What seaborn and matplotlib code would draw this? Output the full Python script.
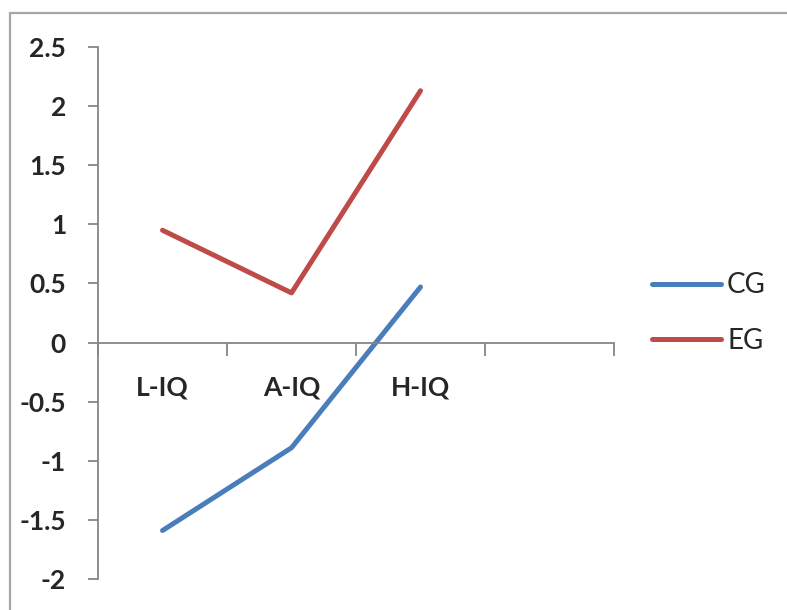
import pandas as pd
import matplotlib.pyplot as plt
import seaborn as sns
from matplotlib.patches import Rectangle

categories = ["L-IQ", "A-IQ", "H-IQ"]
cg = [-1.59, -0.89, 0.47]
eg = [0.95, 0.42, 2.13]
yticks = [-2, -1.5, -1, -0.5, 0, 0.5, 1, 1.5, 2, 2.5]

df = pd.DataFrame({
    "cat": categories * 2,
    "value": cg + eg,
    "group": ["CG"] * 3 + ["EG"] * 3,
})
df["pos"] = [categories.index(c) for c in df["cat"]]

sns.set_style("white")
plt.rcParams["font.family"] = ["Lato", "DejaVu Sans"]

fig = plt.figure(figsize=(7.87, 6.10), dpi=100)
ax = fig.add_axes([98 / 787, 31 / 610, 516 / 787, 532 / 610])

sns.lineplot(data=df, x="pos", y="value", hue="group", sort=False,
             palette={"CG": "#4A7EBB", "EG": "#BE4B48"}, linewidth=3.6,
             ax=ax, legend=False)

ax.set_xlim(-0.5, 3.5)
ax.set_ylim(-2, 2.5)
ax.set_xlabel("")
ax.set_ylabel("")

# axis crosses at zero, Excel style
for s in ["top", "right"]:
    ax.spines[s].set_visible(False)
ax.spines["bottom"].set_position(("data", 0))
for s in ["left", "bottom"]:
    ax.spines[s].set_color("#868686")
    ax.spines[s].set_linewidth(1.3)

ax.set_yticks(yticks)
ax.set_yticklabels([f"{v:g}" for v in yticks], fontsize=19, fontweight="bold")
ax.tick_params(axis="y", left=True, direction="out", length=7, width=1.3,
               color="#868686", pad=16)

ax.set_xticks([-0.5, 0.5, 1.5, 2.5, 3.5])
ax.set_xticklabels([])
ax.tick_params(axis="x", which="major", bottom=True, direction="out", length=9,
               width=1.3, color="#868686")
ax.set_xticks([0, 1, 2], minor=True)
ax.set_xticklabels(categories, minor=True, fontsize=19, fontweight="bold")
ax.tick_params(axis="x", which="minor", bottom=True, length=0, pad=24)

# legend on the right
fig.legend(handles=ax.get_lines()[:2], labels=["CG", "EG"], loc="center left",
           bbox_to_anchor=(652 / 787, 1 - 313 / 610), frameon=False,
           borderaxespad=0, borderpad=0,
           fontsize=20, handlelength=2.5, handletextpad=0.2, labelspacing=1.05)

# outer chart frame
fig.patches.append(Rectangle((10 / 787, -0.1), 1.2, 1 - 13 / 610 + 0.1,
                             transform=fig.transFigure, fill=False,
                             edgecolor="#A6A6A6", linewidth=1.6))

fig.savefig("out.png", dpi=100)
